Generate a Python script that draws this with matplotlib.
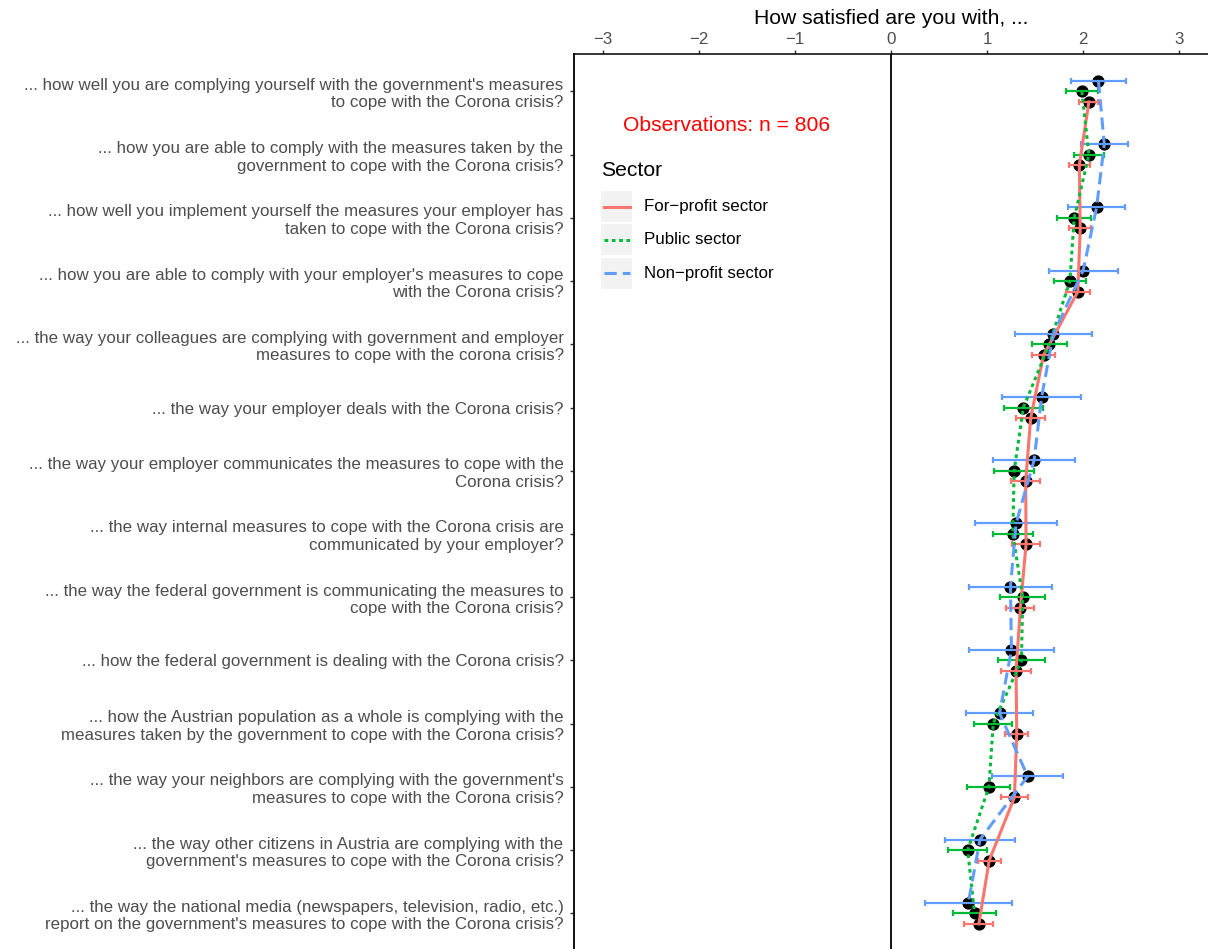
import matplotlib
matplotlib.use("Agg")
import matplotlib.pyplot as plt
from matplotlib.lines import Line2D
from matplotlib.patches import Rectangle
import numpy as np

plt.rcParams['font.family'] = ['Liberation Sans', 'DejaVu Sans']

questions = [
    "... how well you are complying yourself with the government's measures\nto cope with the Corona crisis?",
    "... how you are able to comply with the measures taken by the\ngovernment to cope with the Corona crisis?",
    "... how well you implement yourself the measures your employer has\ntaken to cope with the Corona crisis?",
    "... how you are able to comply with your employer's measures to cope\nwith the Corona crisis?",
    "... the way your colleagues are complying with government and employer\nmeasures to cope with the corona crisis?",
    "... the way your employer deals with the Corona crisis?",
    "... the way your employer communicates the measures to cope with the\nCorona crisis?",
    "... the way internal measures to cope with the Corona crisis are\ncommunicated by your employer?",
    "... the way the federal government is communicating the measures to\ncope with the Corona crisis?",
    "... how the federal government is dealing with the Corona crisis?",
    "... how the Austrian population as a whole is complying with the\nmeasures taken by the government to cope with the Corona crisis?",
    "... the way your neighbors are complying with the government's\nmeasures to cope with the Corona crisis?",
    "... the way other citizens in Austria are complying with the\ngovernment's measures to cope with the Corona crisis?",
    "... the way the national media (newspapers, television, radio, etc.)\nreport on the government's measures to cope with the Corona crisis?",
]

sectors = ["For\u2212profit sector", "Public sector", "Non\u2212profit sector"]

forprofit_mean = [2.06, 1.96, 1.97, 1.945, 1.589, 1.454, 1.402, 1.406, 1.347, 1.302, 1.309, 1.285, 1.022, 0.915]
forprofit_err = [0.10, 0.11, 0.115, 0.128, 0.12, 0.15, 0.15, 0.15, 0.145, 0.155, 0.118, 0.145, 0.12, 0.15]

public_mean = [1.987, 2.06, 1.907, 1.862, 1.648, 1.378, 1.282, 1.268, 1.371, 1.358, 1.064, 1.019, 0.798, 0.870]
public_err = [0.17, 0.155, 0.175, 0.17, 0.18, 0.205, 0.21, 0.21, 0.235, 0.24, 0.20, 0.225, 0.20, 0.225]

nonprofit_mean = [2.16, 2.22, 2.14, 2.0, 1.69, 1.568, 1.489, 1.302, 1.244, 1.254, 1.13, 1.423, 0.926, 0.805]
nonprofit_err = [0.285, 0.245, 0.30, 0.36, 0.40, 0.41, 0.43, 0.43, 0.43, 0.44, 0.35, 0.37, 0.36, 0.45]

n_obs = 806
x_ticks = [-3, -2, -1, 0, 1, 2, 3]

colors = ["#F8766D", "#00BA38", "#619CFF"]
dash_styles = ["-", (0, (1.2, 1.2)), (0, (4, 2))]
offsets = [0.166, 0.0, -0.166]

W, H = 1208, 949
TOP = 54
LEFT = 574
fig = plt.figure(figsize=(W / 100, H / 100), dpi=100)
ax = fig.add_axes([LEFT / W, 0, (W - LEFT) / W, (H - TOP) / H])

pos = np.arange(1, len(questions) + 1)
series = [(forprofit_mean, forprofit_err), (public_mean, public_err), (nonprofit_mean, nonprofit_err)]

# points first, then error bars, then connecting lines
for (m, e), off in zip(series, offsets):
    ax.plot(m, pos + off, 'o', color='black', markersize=7.8, zorder=3)
for (m, e), off, c in zip(series, offsets, colors):
    ax.errorbar(m, pos + off, xerr=e, fmt='none', ecolor=c, elinewidth=1.6,
                capsize=2.4, capthick=1.6, zorder=4)
for (m, e), off, c, ls in zip(series, offsets, colors, dash_styles):
    ax.plot(m, pos + off, color=c, linestyle=ls, linewidth=2.2, zorder=5)

ax.axvline(0, color='black', linewidth=1.3, zorder=2)

ax.set_xlim(-3.3, 3.3)
ax.set_ylim(14.565, 0.407)
ax.set_xticks(x_ticks)
ax.xaxis.tick_top()
ax.xaxis.set_label_position('top')
ax.set_xlabel("How satisfied are you with, ...", fontsize=15.2, labelpad=6)
ax.tick_params(axis='x', labelsize=12.2, labelcolor='#4D4D4D', length=3, width=1,
               pad=2, color='#333333')
ax.set_yticks(pos)
ax.set_yticklabels(questions, fontsize=12.2, color='#4D4D4D', linespacing=1.2)
for lbl in ax.get_yticklabels():
    lbl.set_multialignment('right')
ax.tick_params(axis='y', length=3, width=1, pad=4.5, color='#333333')

for side in ['right', 'bottom']:
    ax.spines[side].set_visible(False)
ax.spines['left'].set_linewidth(1.3)
ax.spines['top'].set_linewidth(1.1)


def fx(x):
    return x / W


def fy(y):
    return 1 - y / H


fig.text(fx(727), fy(126), f"Observations: n = {n_obs}", color='red', fontsize=15.2,
         ha='center', va='center')
fig.text(fx(601), fy(171), "Sector", fontsize=15.2, ha='left', va='center')

row_y = [206.7, 240.0, 273.3]
for s, c, ls, yy in zip(sectors, colors, dash_styles, row_y):
    fig.add_artist(Rectangle((fx(601), fy(yy + 15.5)), 31 / W, 31 / H,
                             transform=fig.transFigure, facecolor='#F2F2F2',
                             edgecolor='none'))
    fig.add_artist(Line2D([fx(604), fx(630)], [fy(yy), fy(yy)], transform=fig.transFigure,
                          color=c, linestyle=ls, linewidth=2.2))
    fig.text(fx(644), fy(yy), s, fontsize=12.2, ha='left', va='center')

fig.savefig("out.png", dpi=100)
